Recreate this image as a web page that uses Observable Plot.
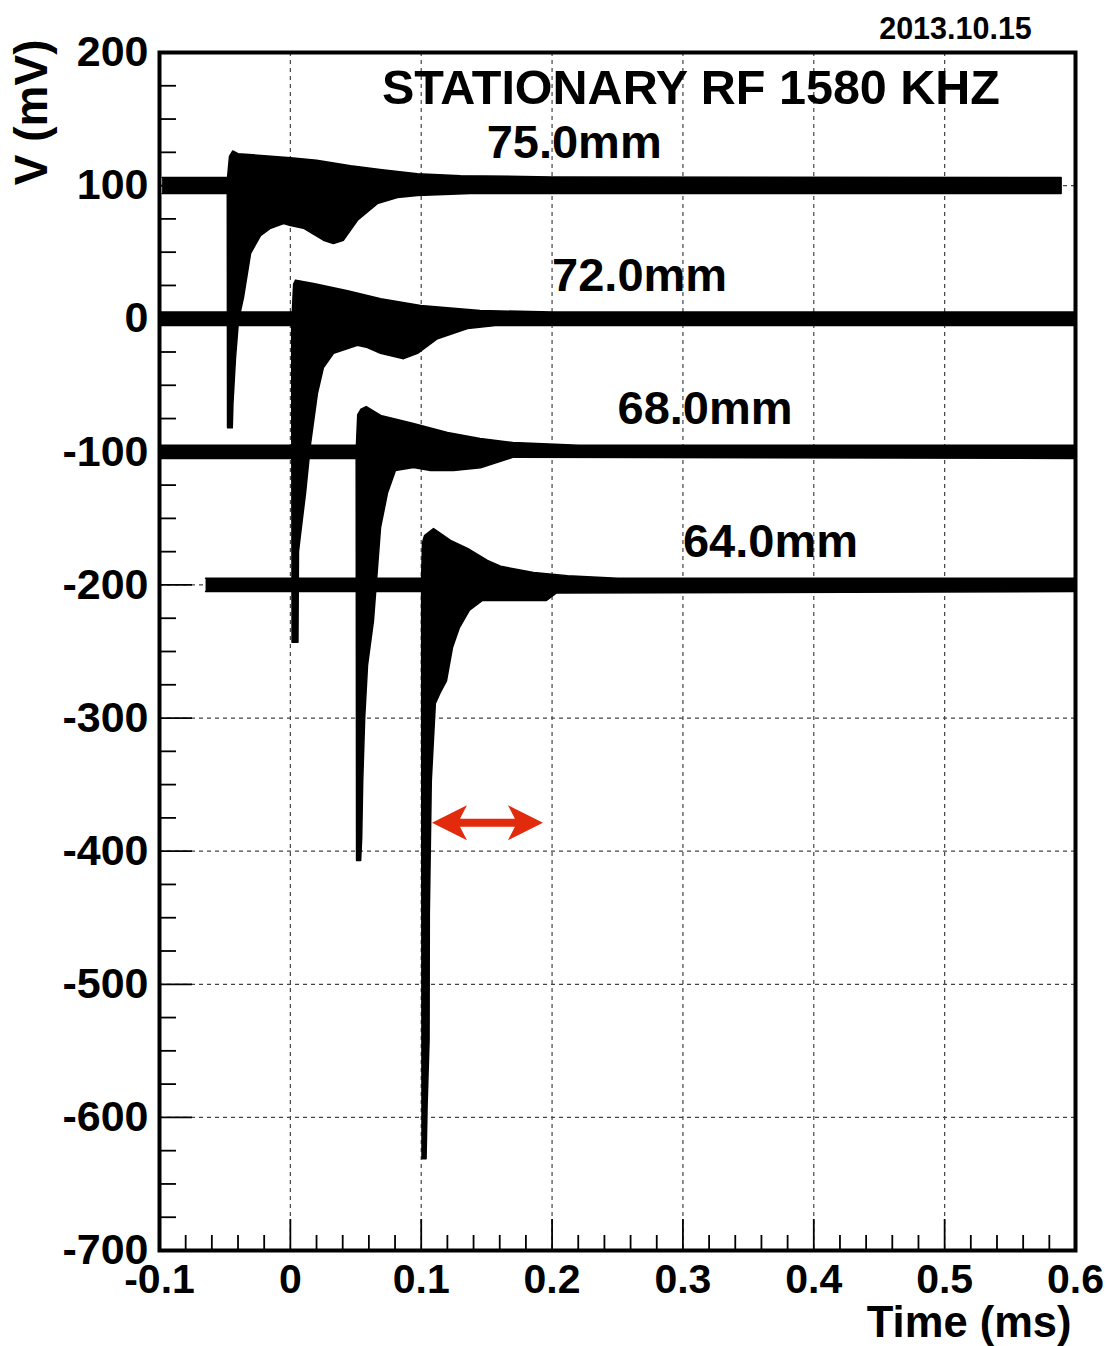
<!DOCTYPE html>
<html><head><meta charset="utf-8">
<script src="https://cdn.jsdelivr.net/npm/d3@7"></script>
<script src="https://cdn.jsdelivr.net/npm/@observablehq/plot@0.6"></script>
<style>html,body{margin:0;padding:0;background:#fff;overflow:hidden}</style>
</head><body><div id="chart"></div>
<script>
// ---- axes ----
const xTicks = [-0.1, 0, 0.1, 0.2, 0.3, 0.4, 0.5, 0.6];
const xTickLabels = ["-0.1", "0", "0.1", "0.2", "0.3", "0.4", "0.5", "0.6"];
const yTicks = [-700, -600, -500, -400, -300, -200, -100, 0, 100, 200];
const yTickLabels = ["-700", "-600", "-500", "-400", "-300", "-200", "-100", "0", "100", "200"];

// ---- traces: [time (ms), voltage (mV)] envelopes ----
const t75Upper = [[-0.098,106],[-0.048,106],[-0.0465,122],[-0.044,126],[-0.04,124],[-0.02,122.5],[0.0,121],[0.02,119],[0.046,115],[0.07,112],[0.097,109],[0.13,107.5],[0.2,106.5],[0.589,106]];
const t75Lower = [[-0.098,94],[-0.0482,94],[-0.048,-82],[-0.0444,-82],[-0.0439,-64],[-0.0419,-29],[-0.0396,-1],[-0.0358,16],[-0.0304,49],[-0.0228,62.5],[-0.0151,68],[-0.0052,71.5],[0.0001,70],[0.01,68],[0.0253,59],[0.0329,56.5],[0.0406,59],[0.0513,74],[0.0665,86.5],[0.0818,91],[0.0971,92.6],[0.1376,94],[0.589,94]];

const t72Upper = [[-0.099,5],[0.0015,5],[0.0025,26],[0.004,29],[0.0177,26.5],[0.0437,21],[0.069,15],[0.0995,10],[0.145,6.2],[0.2,5],[0.6,5]];
const t72Lower = [[-0.099,-5],[0.001,-5],[0.0013,-243],[0.0058,-243],[0.0062,-175],[0.008,-160],[0.0116,-131],[0.0154,-94],[0.0207,-56],[0.0253,-36.6],[0.033,-26],[0.0513,-20],[0.0589,-21.6],[0.0689,-26],[0.0865,-30],[0.0972,-26],[0.1124,-15],[0.1354,-7.4],[0.1583,-5],[0.6,-5]];

const t68Upper = [[-0.099,-95],[0.0505,-95],[0.0515,-72],[0.054,-68],[0.058,-66],[0.069,-72.7],[0.094,-78.7],[0.12,-85.5],[0.145,-90],[0.17,-93],[0.22,-95],[0.6,-95]];
const t68Lower = [[-0.099,-105],[0.0503,-105],[0.0506,-407],[0.0537,-407],[0.0545,-390],[0.0553,-347],[0.0568,-300],[0.059,-260],[0.0635,-227],[0.0689,-157],[0.0742,-131],[0.0803,-114],[0.0941,-111.8],[0.1071,-114],[0.1247,-114],[0.1453,-112],[0.1705,-104],[0.6,-105]];

const t64Upper = [[-0.0648,-195],[0.1003,-195],[0.101,-168],[0.1025,-163],[0.1094,-157.6],[0.1224,-166.6],[0.1354,-172.6],[0.1506,-181.6],[0.1606,-186],[0.1858,-190.7],[0.2118,-193],[0.25,-195],[0.6,-195]];
const t64Lower = [[-0.0648,-205],[0.1003,-205],[0.1006,-631],[0.1037,-631],[0.1045,-591],[0.106,-542],[0.1062,-447],[0.1077,-347],[0.1108,-289],[0.1145,-281],[0.1193,-272],[0.1239,-247],[0.1292,-232],[0.1369,-219],[0.1468,-211.7],[0.1728,-211.7],[0.1957,-211.7],[0.2034,-206],[0.6,-205]];

const traceNames = ["75.0mm", "72.0mm", "68.0mm", "64.0mm"];
const traceUppers = [t75Upper, t72Upper, t68Upper, t64Upper];
const traceLowers = [t75Lower, t72Lower, t68Lower, t64Lower];

// ---- labels ----
const labelText = ["STATIONARY RF 1580 KHZ", "75.0mm", "72.0mm", "68.0mm", "64.0mm"];
const labelT = [0.07, 0.15, 0.2, 0.25, 0.3];
const labelV = [161, 121, 21, -79, -179];
const labelSize = [48.5, 47, 47, 47, 47];

// ---- red double arrow ----
const arrowT1 = [0.1086], arrowT2 = [0.1934], arrowV = [-379];

// build polygon rows (upper left->right, lower right->left)
const rows = [];
traceNames.forEach((name, k) => {
  traceUppers[k].forEach(([t, v]) => rows.push({trace: name, t, v}));
  traceLowers[k].slice().reverse().forEach(([t, v]) => rows.push({trace: name, t, v}));
});
const labels = labelText.map((s, i) => ({s, t: labelT[i], v: labelV[i], size: labelSize[i]}));
const arrows = arrowT1.map((t1, i) => ({t1, t2: arrowT2[i], v: arrowV[i]}));

const xMap = new Map(xTicks.map((d, i) => [d, xTickLabels[i]]));
const yMap = new Map(yTicks.map((d, i) => [d, yTickLabels[i]]));
const xMinor = d3.range(0, 36).map(i => +(-0.1 + i * 0.02).toFixed(3)).filter(d => !xTicks.some(m => Math.abs(m - d) < 1e-9));
const yMinor = d3.range(0, 37).map(i => -700 + i * 25).filter(d => d % 100 !== 0);

const W = 1107, H = 1346, ML = 159, MR = 32, MT = 52, MB = 96;
const innerW = W - ML - MR, innerH = H - MT - MB;

function redArrow(index, scales) {
  const {x, y} = scales;
  const g = d3.create("svg:g");
  for (const a of arrows) {
    const x1 = x(a.t1), x2 = x(a.t2), yc = y(a.v);
    const L = 35, HW = 17.5, N = 7, S = 4;
    const d = `M${x1},${yc}L${x1+L},${yc-HW}L${x1+L-N},${yc-S}L${x2-L+N},${yc-S}L${x2-L},${yc-HW}L${x2},${yc}L${x2-L},${yc+HW}L${x2-L+N},${yc+S}L${x1+L-N},${yc+S}L${x1+L},${yc+HW}Z`;
    g.append("path").attr("d", d).attr("fill", "#e22b0c");
  }
  return g.node();
}

const chart = Plot.plot({
  width: W, height: H,
  marginLeft: ML, marginRight: MR, marginTop: MT, marginBottom: MB,
  style: {fontFamily: "'Liberation Sans', Arial, Helvetica, sans-serif", fontWeight: "bold", background: "white", color: "black"},
  x: {domain: [-0.1, 0.6]},
  y: {domain: [-700, 200]},
  marks: [
    Plot.gridX(xTicks.slice(1, -1), {stroke: "#444", strokeOpacity: 1, strokeWidth: 1.2, strokeDasharray: "4,4"}),
    Plot.gridY(yTicks.slice(1, -1), {stroke: "#444", strokeOpacity: 1, strokeWidth: 1.2, strokeDasharray: "4,4"}),
    Plot.line(rows, {x: "t", y: "v", z: "trace", fill: "black", stroke: "black", strokeWidth: 1.5, curve: "linear"}),
    Plot.ruleX(xMinor, {insetTop: innerH - 15, stroke: "black", strokeWidth: 1.8}),
    Plot.ruleX(xTicks, {insetTop: innerH - 31, stroke: "black", strokeWidth: 1.8}),
    Plot.ruleY(yMinor, {insetRight: innerW - 17, stroke: "black", strokeWidth: 1.8}),
    Plot.ruleY(yTicks, {insetRight: innerW - 33, stroke: "black", strokeWidth: 1.8}),
    Plot.frame({stroke: "black", strokeWidth: 4}),
    Plot.axisX({ticks: xTicks, tickFormat: d => xMap.get(d), tickSize: 0, tickPadding: 13, fontSize: 41, label: null}),
    Plot.axisY({ticks: yTicks, tickFormat: d => yMap.get(d), tickSize: 0, tickPadding: 11, fontSize: 43, label: null}),
    Plot.text(labels, {x: "t", y: "v", text: "s", textAnchor: "start", lineAnchor: "bottom", fontSize: d => d.size}),
    Plot.text(["Time (ms)"], {frameAnchor: "bottom-right", text: d => d, textAnchor: "end", lineAnchor: "bottom", dx: -4, dy: 86, fontSize: 43.5}),
    Plot.text(["V (mV)"], {frameAnchor: "top-left", text: d => d, textAnchor: "end", lineAnchor: "middle", rotate: -90, dx: -127, dy: -13, fontSize: 46}),
    Plot.text(["2013.10.15"], {frameAnchor: "top-right", text: d => d, textAnchor: "middle", lineAnchor: "bottom", dx: -120, dy: -14, fontSize: 30.5}),
    redArrow
  ]
});
document.getElementById("chart").appendChild(chart);
</script>
</body></html>
